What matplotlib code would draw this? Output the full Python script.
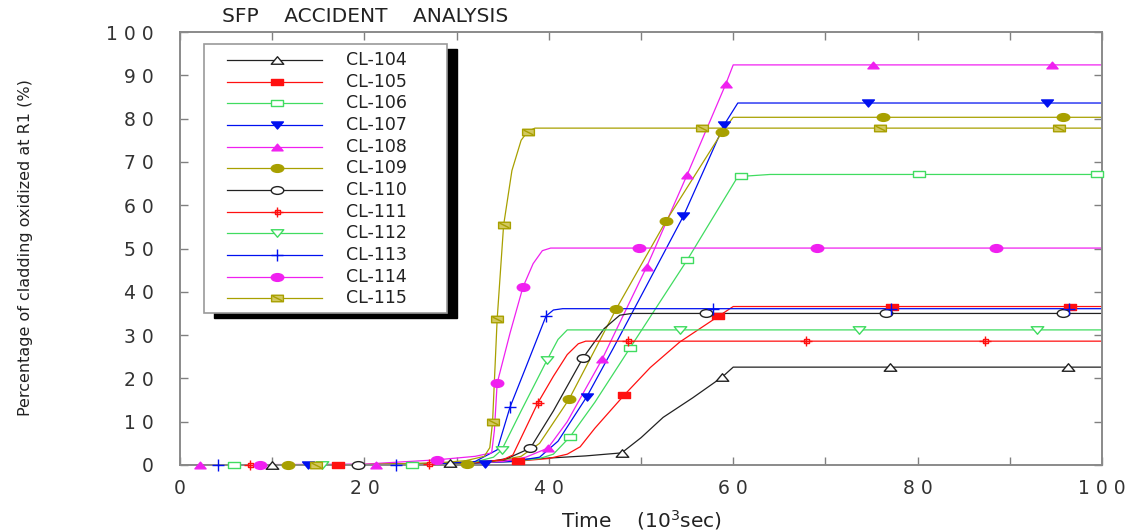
import numpy as np
import matplotlib
matplotlib.use("Agg")
import matplotlib.pyplot as plt
from matplotlib.path import Path
from matplotlib.transforms import Affine2D
from matplotlib.patches import Rectangle
from matplotlib import font_manager

# ---------------- data ----------------
labels = ["CL-104", "CL-105", "CL-106", "CL-107", "CL-108", "CL-109",
          "CL-110", "CL-111", "CL-112", "CL-113", "CL-114", "CL-115"]

t104 = [0, 20, 28, 35, 40, 44, 47.9, 50, 52.4, 55.6, 58.8, 60, 100]
y104 = [0, 0.1, 0.4, 1.0, 1.6, 2.1, 2.8, 6.3, 11, 15.5, 20.3, 22.6, 22.6]
mt104 = [10, 29.3, 47.9, 58.8, 77, 96.3]
my104 = [0, 0.4, 2.8, 20.3, 22.6, 22.6]

t105 = [0, 20, 30, 36.7, 40, 42, 43.4, 45, 48.2, 51, 54.2, 57.8, 60, 100]
y105 = [0, 0.1, 0.4, 0.9, 1.5, 2.5, 4.2, 8.5, 16.2, 22.5, 28.4, 33.5, 36.6, 36.6]
mt105 = [17.1, 36.7, 48.2, 58.4, 77.2, 96.5]
my105 = [0, 0.9, 16.2, 34.3, 36.6, 36.6]

t106 = [0, 20, 30, 36, 39, 40.5, 42.3, 45, 48.8, 55, 60.5, 64, 100]
y106 = [0, 0, 0.3, 0.8, 1.5, 2.5, 6.5, 14.5, 27, 47.3, 66.6, 67.1, 67.1]
mt106 = [5.9, 25.2, 42.3, 48.8, 55, 60.8, 80.2, 99.5]
my106 = [0, 0, 6.5, 27, 47.3, 66.7, 67.1, 67.1]

t107 = [0, 20, 30, 36, 39, 41, 44.1, 47, 50, 54.6, 59, 60.5, 100]
y107 = [0, 0, 0.3, 0.8, 1.8, 5.5, 15.7, 27, 39, 57.5, 78.5, 83.6, 83.6]
mt107 = [13.9, 33.1, 44.1, 54.6, 59, 74.6, 94]
my107 = [0, 0.3, 15.7, 57.5, 78.5, 83.6, 83.6]

t108 = [0, 20, 30, 35, 37.5, 39.9, 42, 45.8, 50.6, 55, 59.2, 60, 100]
y108 = [0, 0, 0.3, 0.8, 1.8, 3.9, 10, 24.5, 45.7, 67, 88, 92.4, 92.4]
mt108 = [2.2, 21.3, 39.9, 45.8, 50.6, 55, 59.2, 75.2, 94.6]
my108 = [0, 0, 3.9, 24.5, 45.7, 67, 88, 92.4, 92.4]

t109 = [0, 20, 30, 34, 37, 39, 42.2, 47.3, 52.7, 58.8, 60, 100]
y109 = [0, 0, 0.3, 0.8, 2, 5, 15.2, 36, 56.3, 76.9, 80.3, 80.3]
mt109 = [11.7, 31.1, 42.2, 47.3, 52.7, 58.8, 76.3, 95.8]
my109 = [0, 0.3, 15.2, 36, 56.3, 76.9, 80.3, 80.3]

t110 = [0, 20, 30, 33, 35.5, 38, 40.5, 43.7, 46, 47.7, 49, 100]
y110 = [0, 0, 0.3, 0.6, 1.5, 3.9, 12.5, 24.7, 31.5, 34.6, 35, 35]
mt110 = [19.3, 38, 43.7, 57, 76.6, 95.8]
my110 = [0, 3.9, 24.7, 35, 35, 35]

t111 = [0, 20, 28, 32, 35, 36.1, 38.8, 40.5, 42, 43.2, 44, 100]
y111 = [0, 0, 0.3, 0.6, 1.2, 2.3, 14.3, 20.5, 25.5, 28, 28.6, 28.6]
mt111 = [7.6, 27, 38.8, 48.6, 67.9, 87.3]
my111 = [0, 0.3, 14.3, 28.6, 28.6, 28.6]

t112 = [0, 20, 28, 32, 34, 34.9, 37, 39.8, 41, 42, 100]
y112 = [0, 0, 0.3, 0.7, 1.8, 3.5, 12.5, 24.2, 29, 31.2, 31.2]
mt112 = [15.4, 34.9, 39.8, 54.2, 73.6, 93]
my112 = [0, 3.5, 24.2, 31.2, 31.2, 31.2]

t113 = [0, 20, 28, 32, 34.4, 35.8, 37.5, 39.7, 40.5, 41.5, 100]
y113 = [0, 0, 0.3, 0.8, 3.5, 13.4, 22.5, 34.4, 35.8, 36.1, 36.1]
mt113 = [4.1, 23.4, 35.8, 39.7, 57.8, 77.1, 96.4]
my113 = [0, 0.1, 13.4, 34.4, 36.1, 36.1, 36.1]

t114 = [0, 20, 27.9, 32, 33.8, 34.1, 34.4, 35.8, 37.2, 38.3, 39.3, 40.2, 100]
y114 = [0, 0.2, 1.2, 2.0, 2.8, 8, 18.9, 30.5, 41.1, 46.5, 49.5, 50.1, 50.1]
mt114 = [8.7, 27.9, 34.4, 37.2, 49.8, 69.1, 88.5]
my114 = [0, 1.2, 18.9, 41.1, 50.1, 50.1, 50.1]

t115 = [0, 20, 28, 31, 33, 33.6, 33.9, 34.4, 35.1, 36, 37, 37.7, 38.5, 100]
y115 = [0, 0.1, 0.5, 1, 2, 4, 9.9, 33.7, 55.4, 68, 75, 77, 77.8, 77.8]
mt115 = [14.8, 33.9, 34.4, 35.1, 37.7, 56.6, 75.9, 95.3]
my115 = [0, 9.9, 33.7, 55.4, 77, 77.8, 77.8, 77.8]

x_ticks = [0, 10, 20, 30, 40, 50, 60, 70, 80, 90, 100]
x_ticklabels = ["0", "", "2 0", "", "4 0", "", "6 0", "", "8 0", "", "1 0 0"]
y_ticks = [0, 10, 20, 30, 40, 50, 60, 70, 80, 90, 100]
y_ticklabels = ["0", "1 0", "2 0", "3 0", "4 0", "5 0", "6 0", "7 0", "8 0", "9 0", "1 0 0"]

# ---------------- styles ----------------
BLACK = "#222222"
RED = "#ff1010"
GREEN = "#40dc60"
BLUE = "#0010f0"
MAGENTA = "#f020f0"
OLIVE = "#a8a000"

tri_up = Path([(-1, -0.6), (1, -0.6), (0, 0.6), (0, 0)], closed=True)
tri_dn = Path([(-1, 0.6), (1, 0.6), (0, -0.6), (0, 0)], closed=True)
rect = Path([(-1, -0.55), (1, -0.55), (1, 0.55), (-1, 0.55), (0, 0)], closed=True)
ellipse = Path.unit_circle().transformed(Affine2D().scale(1.0, 0.62))
M, L, C = Path.MOVETO, Path.LINETO, Path.CLOSEPOLY
slashrect = Path([(-1, -0.55), (1, -0.55), (1, 0.55), (-1, 0.55), (0, 0),
                  (-0.8, 0.4), (0.8, -0.4)],
                 [M, L, L, L, C, M, L])
crossbox = Path([(-0.4, -0.35), (0.4, -0.35), (0.4, 0.35), (-0.4, 0.35), (0, 0),
                 (-1, 0), (1, 0), (0, -0.75), (0, 0.75)],
                [M, L, L, L, C, M, L, M, L])

series_t = [t104, t105, t106, t107, t108, t109, t110, t111, t112, t113, t114, t115]
series_y = [y104, y105, y106, y107, y108, y109, y110, y111, y112, y113, y114, y115]
marks_t = [mt104, mt105, mt106, mt107, mt108, mt109, mt110, mt111, mt112, mt113, mt114, mt115]
marks_y = [my104, my105, my106, my107, my108, my109, my110, my111, my112, my113, my114, my115]

colors = [BLACK, RED, GREEN, BLUE, MAGENTA, OLIVE, BLACK, RED, GREEN, BLUE, MAGENTA, OLIVE]
markers = [tri_up, rect, rect, tri_dn, tri_up, ellipse, ellipse, crossbox, tri_dn, "+", ellipse, slashrect]
faces = ["white", RED, "white", BLUE, MAGENTA, OLIVE, "white", "white", "white", BLUE, MAGENTA, "#d2c860"]
msizes = [9, 9, 9, 8.5, 8, 9, 9, 9, 9, 8, 9, 8.5]

# ---------------- figure ----------------
fig = plt.figure(figsize=(11.41, 5.31), dpi=100)
W, H = 1141, 531
ax = fig.add_axes([180 / W, 1 - 465 / H, 922 / W, 433 / H])
ax.set_xlim(0, 100)
ax.set_ylim(0, 100)

for i in range(len(labels)):
    ax.plot(series_t[i], series_y[i], color=colors[i], lw=0.9, zorder=2)
    ax.plot(marks_t[i], marks_y[i], linestyle="none", marker=markers[i],
            ms=msizes[i], mfc=faces[i], mec=colors[i], mew=1.0, zorder=3,
            clip_on=False)

ax.set_xticks(x_ticks)
ax.set_xticklabels(x_ticklabels)
ax.set_yticks(y_ticks)
ax.set_yticklabels(y_ticklabels)
ax.tick_params(direction="in", top=True, right=True, length=6, width=1,
               color="#808080", labelsize=13.5, labelcolor="#333333")
ax.tick_params(axis="y", pad=19)
ax.tick_params(axis="x", pad=10)
for s in ax.spines.values():
    s.set_color("#8a8a8a")
    s.set_linewidth(1.4)

# title / labels
fig.text(222 / W, 1 - 17 / H, "SFP    ACCIDENT    ANALYSIS", fontsize=14.5,
         ha="left", va="center", color="#222222")
fig.text(641 / W, 1 - 520 / H, "Time    (10$^3$sec)", fontsize=14.5,
         ha="center", va="center", color="#222222")

names = {f.name for f in font_manager.fontManager.ttflist}
if "Liberation Sans Narrow" in names:
    yfam, ysize = "Liberation Sans Narrow", 14
else:
    yfam, ysize = "DejaVu Sans", 11.5
fig.text(26 / W, 1 - 248 / H, "Percentage of cladding oxidized at R1 (%)",
         rotation=90, ha="center", va="center", fontsize=ysize, family=yfam,
         color="#222222")

# ---------------- legend (manual box with solid shadow) ----------------
def fx(px):
    return (px - 180) / 922.0

def fy(py):
    return (465 - py) / 433.0

bx0, bx1, by0, by1 = 204, 447, 44, 313
ax.add_patch(Rectangle((fx(bx0 + 10), fy(by1 + 5)), fx(bx1) - fx(bx0), fy(by0) - fy(by1),
                       transform=ax.transAxes, facecolor="black", edgecolor="black",
                       zorder=8, clip_on=False))
ax.add_patch(Rectangle((fx(bx0), fy(by1)), fx(bx1) - fx(bx0), fy(by0) - fy(by1),
                       transform=ax.transAxes, facecolor="white", edgecolor="#9a9a9a",
                       lw=1.2, zorder=9, clip_on=False))
for i, lab in enumerate(labels):
    py = 60 + i * 21.65
    ax.plot([fx(227), fx(277), fx(322)], [fy(py)] * 3, transform=ax.transAxes,
            color=colors[i], lw=0.9, marker=markers[i], markevery=[1],
            ms=msizes[i], mfc=faces[i], mec=colors[i], mew=1.0, zorder=10,
            clip_on=False)
    ax.text(fx(346), fy(py), lab, transform=ax.transAxes, fontsize=12.5,
            ha="left", va="center", color="#222222", zorder=10)

fig.savefig("out.png", dpi=100)
